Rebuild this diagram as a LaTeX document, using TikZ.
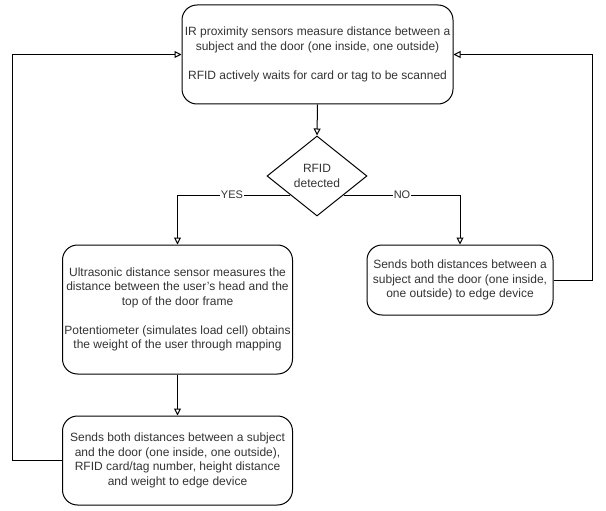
\documentclass[tikz,border=0pt]{standalone}
\usepackage{fontspec}
\setmainfont{Liberation Sans}
\usetikzlibrary{shapes.geometric,arrows.meta,calc}
\begin{document}
\begin{tikzpicture}[x=1pt,y=-1pt,
  every node/.style={text=black!80},
  box/.style={draw=black,line width=1pt,rounded corners=15pt,align=center,inner sep=0pt,
    font=\fontsize{12}{14.5}\selectfont},
  dec/.style={draw=black,line width=1pt,shape=diamond,aspect=1.25,inner sep=0pt,align=center,
    font=\fontsize{12}{14.5}\selectfont},
  conn/.style={draw=black,line width=1pt,-{Triangle[open,width=7pt,length=7pt]}},
  lab/.style={fill=white,inner sep=1pt,font=\fontsize{11}{13}\selectfont}]
\useasboundingbox (0,0) rectangle (606,511);
\node[box,minimum width=271pt,minimum height=99pt] (top) at (317.5,54.5)
  {IR proximity sensors measure distance between a\\subject and the door (one inside, one outside)\\[14.5pt]RFID actively waits for card or tag to be scanned};
\node[dec,minimum width=100pt,minimum height=80pt] (dia) at (317,176) {RFID\\detected};
\node[box,minimum width=230pt,minimum height=129pt] (left) at (177.5,309.5)
  {Ultrasonic distance sensor measures the\\distance between the user's head and the\\top of the door frame\\[14.5pt]Potentiometer (simulates load cell) obtains\\the weight of the user through mapping};
\node[box,minimum width=186pt,minimum height=70pt] (right) at (460,280)
  {Sends both distances between a\\subject and the door (one inside,\\one outside) to edge device};
\node[box,minimum width=230pt,minimum height=89pt] (bot) at (177.5,460.5)
  {Sends both distances between a subject\\and the door (one inside, one outside),\\RFID card/tag number, height distance\\and weight to edge device};
\coordinate (ys) at ($(dia.west)!0.475!(dia.south)$);
\coordinate (ns) at ($(dia.east)!0.475!(dia.south)$);
\coordinate (lb) at (12.5,0);
\coordinate (rb) at (592,0);
\draw[conn] (top.south) -- (dia.north);
\draw[conn] (ys) -| (left.north);
\node[lab] (yes) at (232,195) {YES};
\draw[conn] (ns) -| (right.north);
\node[lab] (no) at (402,195) {NO};
\draw[conn] (left.south) -- (bot.north);
\draw[conn] (bot.west) -- (bot.west -| lb) |- (top.west);
\draw[conn] (right.east) -- (right.east -| rb) |- (top.east);
\end{tikzpicture}
\end{document}
